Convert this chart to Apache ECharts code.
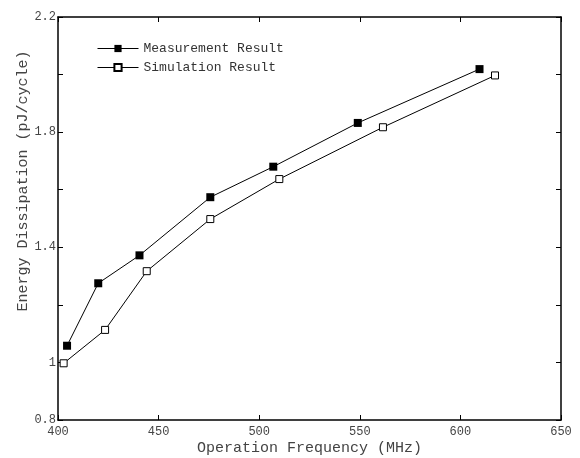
<!DOCTYPE html>
<html>
<head>
<meta charset="utf-8">
<script src="https://cdn.jsdelivr.net/npm/echarts@6/dist/echarts.min.js"></script>
<style>
  html, body { margin: 0; padding: 0; background: #fff; }
  #chart { width: 580px; height: 458px; }
</style>
</head>
<body>
<div id="chart"></div>
<script>
// operating frequency (MHz) and energy per cycle (pJ)
const measureFreq = [404.5, 420, 440.5, 475.7, 507, 549, 609.5];
const measureEnergy = [1.058, 1.275, 1.372, 1.574, 1.68, 1.832, 2.019];
const simFreq = [402.8, 423.4, 444.1, 475.7, 510, 561.5, 617.2];
const simEnergy = [0.997, 1.113, 1.317, 1.498, 1.637, 1.817, 1.997];
const hiddenYLabels = [2.0, 1.6, 1.2];

const mono = 'Liberation Mono';
const pairs = (xs, ys) => xs.map((x, i) => [x, ys[i]]);

const frameAxis = {
  axisLine: { show: true, lineStyle: { color: '#000', width: 1.5 } },
  axisTick: { show: true, inside: true, length: 5, lineStyle: { color: '#000' } },
  splitLine: { show: false }
};

const chart = echarts.init(document.getElementById('chart'));
chart.setOption({
  animation: false,
  grid: { left: 58, right: 19, top: 17, bottom: 38, outerBoundsMode: 'none' },
  legend: {
    orient: 'vertical',
    left: 97,
    top: 42,
    padding: 0,
    itemWidth: 41,
    itemHeight: 9,
    itemGap: 6,
    lineStyle: { width: 1 },
    textStyle: { fontFamily: mono, fontSize: 13, color: '#333' },
    data: ['Measurement Result', 'Simulation Result']
  },
  xAxis: [
    Object.assign({
      type: 'value', min: 400, max: 650, interval: 50,
      name: 'Operation Frequency (MHz)', nameLocation: 'middle', nameGap: 21,
      nameMoveOverlap: false,
      nameTextStyle: { fontFamily: mono, fontSize: 15, color: '#444' },
      axisLabel: { fontFamily: mono, fontSize: 12, color: '#444', margin: 6 }
    }, frameAxis),
    Object.assign({
      type: 'value', min: 400, max: 650, interval: 50, position: 'top',
      axisLabel: { show: false }
    }, frameAxis)
  ],
  yAxis: [
    Object.assign({
      type: 'value', min: 0.8, max: 2.2, interval: 0.2,
      name: 'Energy Dissipation (pJ/cycle)', nameLocation: 'middle', nameGap: 27,
      nameMoveOverlap: false,
      nameTextStyle: { fontFamily: mono, fontSize: 15, color: '#444', padding: [0, 0, 0, 75] },
      axisLabel: {
        fontFamily: mono, fontSize: 12, color: '#444', margin: 2,
        formatter: v => hiddenYLabels.some(h => Math.abs(h - v) < 1e-6) ? '' : String(+v.toFixed(1))
      }
    }, frameAxis),
    Object.assign({
      type: 'value', min: 0.8, max: 2.2, interval: 0.2, position: 'right',
      axisLabel: { show: false }
    }, frameAxis)
  ],
  series: [
    {
      name: 'Measurement Result',
      type: 'line',
      data: pairs(measureFreq, measureEnergy),
      symbol: 'rect',
      symbolSize: 8,
      lineStyle: { color: '#000', width: 1 },
      itemStyle: { color: '#000' }
    },
    {
      name: 'Simulation Result',
      type: 'line',
      data: pairs(simFreq, simEnergy),
      symbol: 'rect',
      symbolSize: 7,
      lineStyle: { color: '#000', width: 1 },
      itemStyle: { color: '#fff', borderColor: '#000', borderWidth: 1 }
    }
  ]
});
</script>
</body>
</html>
